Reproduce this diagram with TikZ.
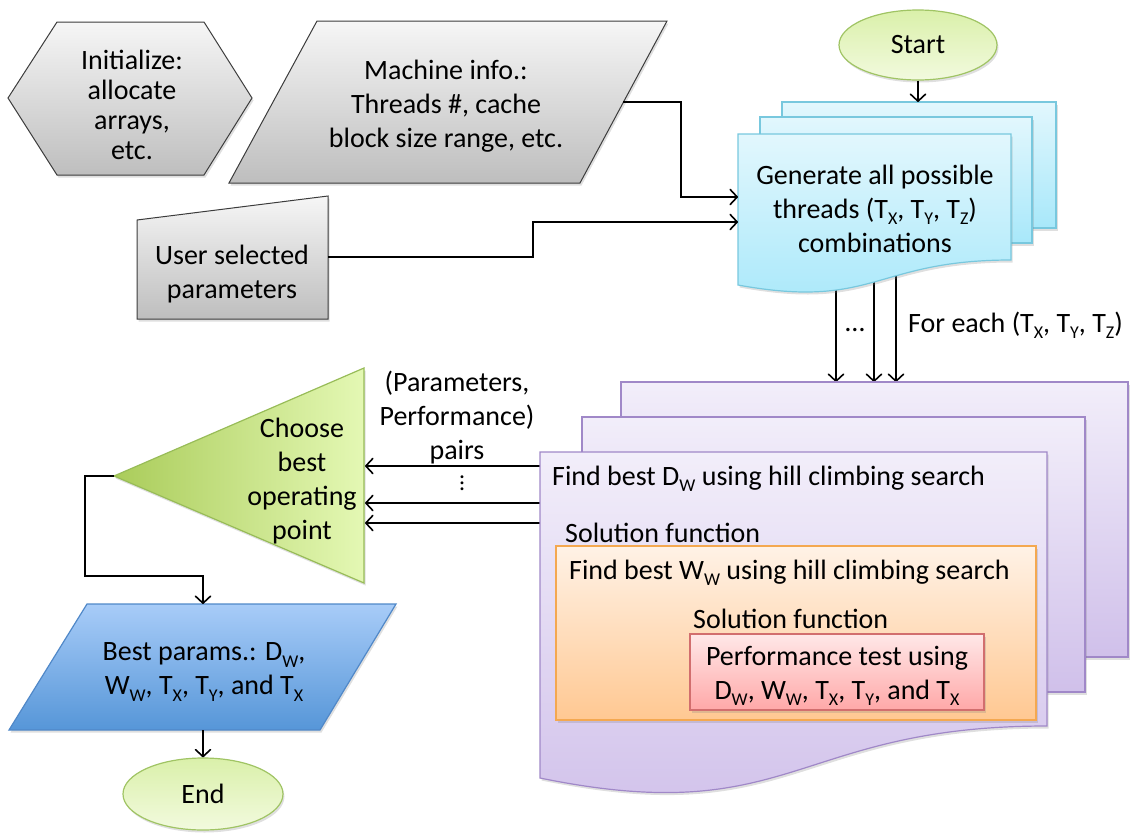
\documentclass[tikz,border=0pt]{standalone}
\usepackage{fontspec}
\setmainfont{Carlito}
\usetikzlibrary{arrows.meta,shadows,shapes.geometric}
\newcommand\sbs[1]{\raisebox{-0.22em}{\fontsize{18}{18}\selectfont #1}}

\definecolor{graytop}{RGB}{246,246,246}
\definecolor{graybot}{RGB}{190,190,190}
\definecolor{grayline}{RGB}{60,60,60}
\definecolor{cyantop}{RGB}{226,247,253}
\definecolor{cyanbot}{RGB}{168,232,250}
\definecolor{cyanline}{RGB}{120,200,222}
\definecolor{purptop}{RGB}{242,238,250}
\definecolor{purpbot}{RGB}{208,192,234}
\definecolor{purpline}{RGB}{160,136,200}
\definecolor{orgtop}{RGB}{255,242,230}
\definecolor{orgbot}{RGB}{255,200,146}
\definecolor{orgline}{RGB}{244,168,80}
\definecolor{pinktop}{RGB}{255,232,232}
\definecolor{pinkbot}{RGB}{255,168,168}
\definecolor{pinkline}{RGB}{210,110,110}
\definecolor{grntop}{RGB}{218,240,170}
\definecolor{grnbot}{RGB}{242,250,222}
\definecolor{grnline}{RGB}{160,196,100}
\definecolor{trileft}{RGB}{170,204,90}
\definecolor{triright}{RGB}{228,248,180}
\definecolor{triline}{RGB}{152,188,88}
\definecolor{bluetop}{RGB}{168,204,248}
\definecolor{bluebot}{RGB}{86,150,216}
\definecolor{blueline}{RGB}{80,136,200}

\begin{document}
\begin{tikzpicture}[x=1pt,y=-1pt,
  txt/.style={font=\fontsize{28}{34}\selectfont, inner sep=0pt, align=center},
  shd/.style={drop shadow={shadow xshift=1.5pt,shadow yshift=-2.5pt,opacity=0.25}},
  grayshape/.style={shd, draw=grayline, line width=1pt, top color=graytop, bottom color=graybot},
  cyanpage/.style={shd, draw=cyanline, line width=1.2pt, top color=cyantop, bottom color=cyanbot},
  purppage/.style={shd, draw=purpline, line width=1.2pt, top color=purptop, bottom color=purpbot},
  orgbox/.style={shd, draw=orgline, line width=1.2pt, top color=orgtop, bottom color=orgbot},
  pinkbox/.style={shd, draw=pinkline, line width=1.2pt, top color=pinktop, bottom color=pinkbot},
  termin/.style={txt, ellipse, shd, draw=grnline, line width=1.2pt, top color=grntop, bottom color=grnbot},
  trishape/.style={shd, draw=triline, line width=1.2pt, left color=trileft, right color=triright},
  blueshape/.style={shd, draw=blueline, line width=1.2pt, top color=bluetop, bottom color=bluebot},
  conn/.style={line width=1.1pt, -{Straight Barb[length=7pt,width=15pt,line width=1.6pt,round]}},
  plain/.style={line width=1.1pt}
]
\useasboundingbox (0,0) rectangle (1136,833);

% connector end points tucked inside shapes (covered by the shapes drawn later)
\coordinate (gen-s1) at (836,265);
\coordinate (gen-s2) at (874,265);
\coordinate (gen-s3) at (896,265);
\coordinate (cal-n1) at (836,382);
\coordinate (cal-n2) at (874,382);
\coordinate (cal-n3) at (896,382);
\coordinate (cal-w1) at (546,466);
\coordinate (cal-w2) at (546,503);
\coordinate (cal-w3) at (546,523);
\coordinate (tri-e1) at (365,466);
\coordinate (tri-e2) at (365,503);
\coordinate (tri-e3) at (365,523);

\draw[conn] (gen-s1) -- (cal-n1);
\draw[conn] (gen-s2) -- (cal-n2);
\draw[conn] (gen-s3) -- (cal-n3);
\draw[conn] (cal-w1) -- (tri-e1);
\draw[conn] (cal-w2) -- (tri-e2);
\draw[conn] (cal-w3) -- (tri-e3);

% initialisation hexagon
\path[grayshape] (8,98) -- (57,22) -- (204,22) -- (252,98) -- (204,175) -- (57,175) -- cycle;
\node[txt, font=\fontsize{28}{30}\selectfont] (init) at (132,105) {Initialize:\\allocate\\arrays,\\etc.};

% machine information (data)
\path[grayshape] (317,21) -- (667,21) -- (580,183) -- (229,183) -- cycle;
\node[txt] (mach) at (446,106) {Machine info.:\\Threads \#, cache\\block size range, etc.};
\coordinate (mach-e) at (623,102);

% user input (manual input)
\path[grayshape] (137,220) -- (328,196) -- (328,319) -- (137,319) -- cycle;
\node[txt] (user) at (232,274) {User selected\\parameters};
\coordinate (user-e) at (328,257);

% start terminator
\node[termin, minimum width=158pt, minimum height=70pt] (start) at (918,45) {Start};

% thread combinations (multi-document)
\path[cyanpage] (782,102) rectangle (1056,228);
\path[cyanpage] (760,117) rectangle (1032,243);
\path[cyanpage] (738,134) -- (1011,134) -- (1011,260)
  .. controls (874.5,260) and (874.5,310) .. (738,285) -- cycle;
\node[txt] (gen) at (875,209) {Generate all possible\\threads (T\sbs{X}, T\sbs{Y}, T\sbs{Z})\\combinations};
\coordinate (gen-n) at (918,102);
\coordinate (gen-w1) at (738,197);
\coordinate (gen-w2) at (738,222);

\node[txt, anchor=base] (dots) at (855,331) {\dots};
\node[txt, anchor=base west] (foreach) at (908,332) {For each (T\sbs{X}, T\sbs{Y}, T\sbs{Z})};

% hill climbing searches (multi-document)
\path[purppage] (621,382) rectangle (1128,657);
\path[purppage] (582,417) rectangle (1085,692);
\path[purppage] (540,452) -- (1047,452) -- (1047,726)
  .. controls (793.5,726) and (793.5,830) .. (540,778) -- cycle;
\node[txt, anchor=base west] (findd) at (552,485) {Find best D\sbs{W} using hill climbing search};
\node[txt, anchor=base west] (sol1) at (565,542) {Solution function};

\path[orgbox] (556,546) rectangle (1036,720);
\node[txt, anchor=base west] (findw) at (569,579) {Find best W\sbs{W} using hill climbing search};
\node[txt, anchor=base west] (sol2) at (693,628) {Solution function};

\path[pinkbox] (690,634) rectangle (984,710);
\node[txt] (perf) at (837,676) {Performance test using\\D\sbs{W}, W\sbs{W}, T\sbs{X}, T\sbs{Y}, and T\sbs{X}};

% result labels
\node[txt] (pairs) at (457,418) {(Parameters,\\Performance)\\pairs};
\node[txt, font=\fontsize{24}{24}\selectfont, rotate=90] (vdots) at (462,483) {\dots};

% choose best operating point
\path[trishape] (114,476) -- (364,368) -- (364,583) -- cycle;
\node[txt] (choose) at (302,481) {Choose\\best\\operating\\point};
\coordinate (tri-w) at (114,476);

% best parameters (data)
\path[blueshape] (87,604) -- (396,604) -- (320,730) -- (9,730) -- cycle;
\node[txt] (best) at (204,672) {Best params.: D\sbs{W},\\W\sbs{W}, T\sbs{X}, T\sbs{Y}, and T\sbs{X}};
\coordinate (best-n) at (203,604);
\coordinate (best-s) at (203,730);

% end terminator
\node[termin, minimum width=160pt, minimum height=72pt] (end) at (203,794) {End};

% connectors
\draw[conn] (start.south) -- (gen-n);
\draw[conn] (mach-e) -- (681,102) -- (681,197) -- (gen-w1);
\draw[conn] (user-e) -- (533,257) -- (533,222) -- (gen-w2);
\draw[conn] (tri-w) -- (85,476) -- (85,576) -- (203,576) -- (best-n);
\draw[conn] (best-s) -- (end.north);
\end{tikzpicture}
\end{document}
